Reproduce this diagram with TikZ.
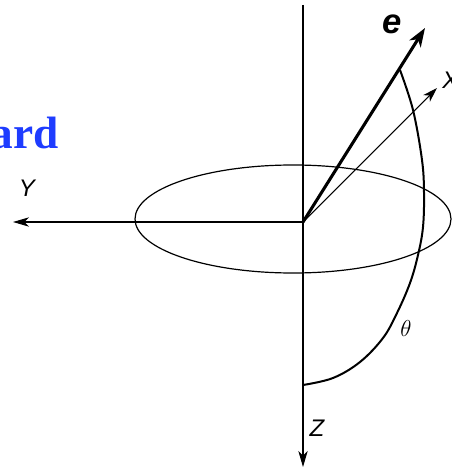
\documentclass[tikz,border=0pt]{standalone}
\usepackage{fontspec}
\setmainfont{Liberation Serif}
\setsansfont{Liberation Sans}
\usetikzlibrary{arrows.meta}
\definecolor{titleblue}{RGB}{30,60,255}

\begin{document}
\begin{tikzpicture}[
  x=0.75pt, y=-0.75pt,
  axis/.style={line width=0.8pt, -{Stealth[length=12pt, width=7pt, inset=3.5pt]}},
  vec/.style={line width=0.8pt, -{Stealth[length=11pt, width=7pt, inset=3pt]}},
  bigvec/.style={line width=2.3pt, -{Stealth[length=14pt, width=10pt, inset=4pt]}},
  ring/.style={line width=0.9pt},
  meridian/.style={line width=1.5pt},
  lab/.style={font=\sffamily\itshape\fontsize{18}{18}\selectfont, inner sep=0pt},
]
  \useasboundingbox (0,0) rectangle (452,470);

  % points
  \coordinate (O) at (303,222);
  \coordinate (ztop) at (303,5);
  \coordinate (zend) at (303,467);
  \coordinate (yend) at (13,222);
  \coordinate (xend) at (437,88);
  \coordinate (eend) at (425,28);

  % title fragment
  \node[anchor=base east, inner sep=0pt, text=titleblue,
        font=\bfseries\fontsize{34}{34}\selectfont] (title) at (59,149) {ard};

  % axes
  \draw[ring] (293,219) ellipse [x radius=158, y radius=54];
  \draw[axis] (ztop) -- (zend);
  \draw[axis] (O) -- (yend);
  \draw[vec] (O) -- (xend);
  \draw[bigvec] (O) -- (eend);

  % polar angle
  \draw[meridian] plot[smooth, tension=0.6] coordinates {
    (400,70) (413,110) (422,160) (424,193) (423,227) (418,255)
    (410,283) (397,313) (383,338) (360,362) (333,378) (303,385)};

  \node[lab] (ylab) at (27,188) {Y};
  \node[lab] (zlab) at (317,428) {Z};
  \node[lab, anchor=west] (xlab) at (442,80) {X};
  \node[inner sep=0pt, font=\sffamily\bfseries\itshape\fontsize{26}{26}\selectfont] (elab) at (392,24) {e};
  \node[inner sep=0pt, font=\fontsize{17}{17}\selectfont] (thlab) at (406,328) {$\theta$};
\end{tikzpicture}
\end{document}
